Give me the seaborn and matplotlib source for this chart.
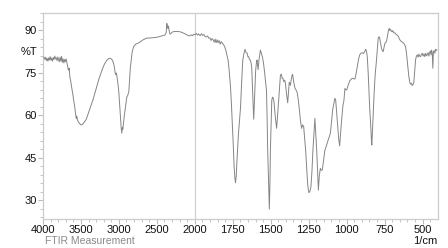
import numpy as np
import pandas as pd
import matplotlib
matplotlib.use("Agg")
import matplotlib.pyplot as plt
from matplotlib.ticker import FixedLocator, MultipleLocator
import seaborn as sns

wavenumber = [
    4000, 3985, 3975, 3965, 3955, 3945, 3935, 3925, 3915, 3905, 3895, 3885, 3875, 3865, 3855, 3845,
    3835, 3825, 3815, 3805, 3795, 3785, 3775, 3765, 3755, 3745, 3735, 3725, 3715, 3705, 3695, 3685,
    3675, 3665, 3655, 3645, 3635, 3625, 3610, 3595, 3580, 3570, 3562, 3555, 3545, 3530, 3515, 3500,
    3485, 3470, 3450, 3430, 3400, 3370, 3340, 3300, 3260, 3220, 3190, 3160, 3130, 3110, 3090, 3075,
    3060, 3050, 3042, 3035, 3028, 3020, 3010, 3000, 2990, 2980, 2970, 2962, 2955, 2948, 2940, 2930,
    2918, 2905, 2895, 2885, 2870, 2860, 2850, 2838, 2825, 2807, 2780, 2750, 2720, 2684, 2636, 2580,
    2504, 2450, 2395, 2378, 2368, 2362, 2355, 2348, 2338, 2328, 2318, 2300, 2285, 2240, 2200, 2175,
    2140, 2110, 2085, 2066, 2050, 2030, 2015, 2000, 1990, 1982, 1975, 1965, 1956, 1948, 1940, 1932,
    1923, 1915, 1908, 1900, 1893, 1886, 1879, 1872, 1866, 1860, 1853, 1847, 1840, 1833, 1826, 1818,
    1810, 1803, 1796, 1789, 1781, 1774, 1765, 1758, 1752, 1746, 1741, 1736, 1732, 1727, 1722, 1713,
    1704, 1699, 1692, 1684, 1676, 1669, 1662, 1655, 1650, 1645, 1640, 1634, 1628, 1625, 1620, 1616,
    1612, 1608, 1603, 1599, 1594, 1590, 1586, 1583, 1577, 1572, 1568, 1562, 1555, 1548, 1542, 1535,
    1528, 1524, 1520, 1516, 1513, 1509, 1505, 1502, 1497, 1493, 1488, 1485, 1478, 1472, 1466, 1461,
    1455, 1449, 1442, 1436, 1430, 1425, 1420, 1414, 1408, 1403, 1396, 1388, 1383, 1378, 1375, 1370,
    1365, 1358, 1355, 1348, 1340, 1333, 1327, 1320, 1311, 1303, 1296, 1290, 1283, 1277, 1270, 1263,
    1257, 1252, 1248, 1242, 1235, 1228, 1222, 1215, 1209, 1203, 1197, 1191, 1186, 1180, 1173, 1167,
    1160, 1152, 1143, 1134, 1125, 1116, 1107, 1100, 1092, 1084, 1077, 1072, 1065, 1059, 1052, 1046,
    1040, 1033, 1024, 1018, 1011, 1004, 998, 990, 980, 972, 963, 955, 945, 938, 930, 922,
    914, 905, 897, 888, 880, 875, 869, 864, 858, 853, 848, 842, 837, 834, 830, 824,
    819, 814, 810, 805, 798, 792, 786, 783, 777, 770, 764, 759, 753, 748, 742, 737,
    732, 726, 720, 715, 710, 705, 700, 695, 690, 682, 675, 667, 660, 652, 645, 635,
    623, 612, 606, 601, 595, 590, 584, 579, 573, 568, 562, 557, 551, 546, 540, 535,
    529, 524, 519, 513, 508, 502, 496, 490, 485, 479, 474, 469, 463, 458, 454, 448,
    444, 441, 436, 432, 428, 423, 418, 414, 408, 405,
]
transmittance = [
    80.5, 80.3, 79.6, 80.4, 79.2, 80.0, 79.0, 80.2, 79.4, 80.6, 79.3, 80.1, 79.0, 80.3, 79.6, 80.8,
    79.8, 80.2, 79.2, 80.5, 79.5, 78.8, 80.4, 79.0, 80.7, 78.6, 79.8, 78.4, 79.6, 78.8, 79.8, 78.5,
    77.2, 75.8, 76.5, 73.2, 72.0, 70.2, 67.8, 65.0, 62.5, 60.2, 58.8, 59.6, 58.2, 57.4, 56.9, 56.5,
    56.6, 57.0, 57.7, 58.5, 60.8, 63.0, 65.5, 69.2, 73.0, 76.0, 78.0, 79.3, 80.0, 80.0, 79.5, 78.6,
    77.0, 75.0, 74.2, 74.8, 74.0, 72.5, 70.5, 67.7, 63.5, 59.0, 55.5, 53.6, 55.5, 55.0, 57.0, 59.5,
    62.0, 65.0, 66.5, 66.8, 68.2, 72.0, 76.5, 79.4, 82.3, 84.1, 85.0, 85.3, 85.8, 86.5, 87.1, 87.2,
    87.4, 87.8, 88.2, 89.0, 92.3, 91.0, 90.6, 91.4, 89.8, 88.6, 88.6, 89.2, 89.4, 89.5, 89.4, 89.2,
    88.8, 88.4, 88.0, 87.9, 88.3, 88.0, 88.5, 88.3, 88.8, 88.2, 88.6, 88.0, 88.7, 88.1, 88.4, 87.6,
    87.6, 87.9, 87.1, 87.2, 86.3, 87.0, 86.5, 85.7, 86.8, 85.5, 86.6, 85.5, 86.3, 85.0, 85.9, 85.3,
    84.8, 84.0, 82.9, 81.3, 79.4, 76.0, 70.0, 63.0, 55.9, 48.5, 41.7, 37.8, 36.1, 38.5, 44.1, 53.0,
    59.4, 62.5, 71.0, 79.4, 81.8, 83.2, 82.0, 81.8, 80.5, 80.6, 79.5, 79.4, 78.0, 76.5, 70.0, 64.0,
    58.5, 64.0, 71.0, 75.9, 78.5, 79.4, 77.5, 76.0, 79.5, 81.5, 82.9, 81.8, 80.6, 78.5, 75.9, 72.5,
    68.8, 60.0, 47.6, 40.0, 35.3, 26.8, 36.0, 47.6, 57.5, 65.3, 66.3, 66.2, 64.5, 60.6, 57.5, 55.3,
    59.5, 64.1, 69.5, 74.1, 74.4, 73.0, 73.0, 71.8, 72.3, 71.2, 67.5, 64.3, 68.0, 71.5, 71.2, 70.5,
    72.5, 74.3, 74.1, 71.5, 69.4, 68.8, 68.2, 66.0, 61.8, 57.5, 55.3, 56.5, 56.0, 52.0, 47.6, 41.5,
    35.9, 33.5, 32.6, 33.0, 34.7, 40.5, 47.6, 53.5, 58.8, 53.5, 47.6, 40.0, 33.5, 38.5, 41.2, 40.5,
    40.6, 44.0, 47.6, 49.0, 50.6, 52.0, 53.5, 57.5, 61.8, 64.0, 65.9, 65.3, 60.5, 55.9, 51.5, 49.1,
    53.5, 58.2, 63.5, 65.0, 69.4, 68.8, 69.0, 70.5, 72.0, 72.5, 73.0, 72.8, 72.7, 74.5, 77.0, 79.5,
    81.2, 81.8, 82.0, 81.7, 82.5, 83.2, 82.5, 80.6, 75.0, 68.8, 62.5, 57.0, 51.5, 49.4, 54.0, 61.8,
    67.5, 72.4, 75.5, 78.2, 83.0, 87.1, 87.6, 87.4, 85.5, 83.5, 82.6, 82.4, 84.0, 85.3, 85.6, 86.1,
    87.5, 89.4, 90.6, 89.8, 90.2, 89.5, 89.4, 89.8, 89.0, 89.0, 88.5, 88.2, 87.8, 86.8, 86.2, 85.8,
    85.3, 84.1, 82.0, 79.4, 76.5, 73.5, 71.6, 70.9, 71.2, 70.4, 70.8, 71.6, 76.0, 79.4, 80.8, 81.2,
    80.4, 81.5, 80.8, 80.6, 81.3, 81.8, 80.8, 81.6, 80.6, 81.8, 80.9, 81.2, 82.0, 80.8, 82.0, 82.6,
    81.2, 82.9, 82.0, 76.5, 82.5, 82.7, 81.8, 83.2, 82.8, 83.0,
]
x_major = [4000, 3500, 3000, 2500, 2000, 1750, 1500, 1250, 1000, 750, 500]
y_major = [30, 45, 60, 75, 90]

df = pd.DataFrame({"wn": wavenumber, "T": transmittance})

sns.set_style("white")
plt.rcParams["font.family"] = ["Liberation Sans", "DejaVu Sans"]

fig = plt.figure(figsize=(4.48, 2.48), dpi=100)
ax = fig.add_axes([43 / 448, 1 - 219 / 248, (437.7 - 43) / 448, (219 - 13) / 248])

def fwd(x):
    x = np.asarray(x, dtype=float)
    return np.where(x >= 2000, 1600 + (x - 2000) / 2.0, x - 400)

def inv(u):
    u = np.asarray(u, dtype=float)
    return np.where(u >= 1600, 2000 + (u - 1600) * 2.0, u + 400)

ax.set_xscale("function", functions=(fwd, inv))
ax.axvline(2000, color="#d2d2d2", lw=0.9, zorder=1)
sns.lineplot(data=df, x="wn", y="T", sort=False, estimator=None, color="#858585",
             lw=0.7, ax=ax, zorder=3)

ax.set_xlim(4000, 400)
ax.set_ylim(23.3, 96)
ax.xaxis.set_major_locator(FixedLocator(x_major))
ax.set_xticklabels([str(v) for v in x_major])
minor_x = list(range(4000, 2000, -100)) + list(range(2000, 400, -50))
ax.xaxis.set_minor_locator(FixedLocator(minor_x))
ax.yaxis.set_major_locator(FixedLocator(y_major))
ax.yaxis.set_minor_locator(MultipleLocator(3))

ax.set_xlabel("")
ax.set_ylabel("")
for s in ax.spines.values():
    s.set_color("#cccccc")
    s.set_linewidth(0.9)
ax.tick_params(which="both", direction="out", color="#bbbbbb", labelsize=8,
               labelcolor="#111111", bottom=True, left=True)
ax.tick_params(which="major", length=3.5, width=0.8, pad=1)
ax.tick_params(which="minor", length=2, width=0.6)

fig.text(37 / 448, 1 - 52 / 248, "%T", ha="right", va="center", fontsize=8, color="#111111")
fig.text(45 / 448, 1 - 241.5 / 248, "FTIR Measurement", ha="left", va="center",
         fontsize=7.5, color="#8a8a8a")
fig.text(437 / 448, 1 - 241.5 / 248, "1/cm", ha="right", va="center", fontsize=8, color="#111111")

fig.savefig("out.png", dpi=100)
